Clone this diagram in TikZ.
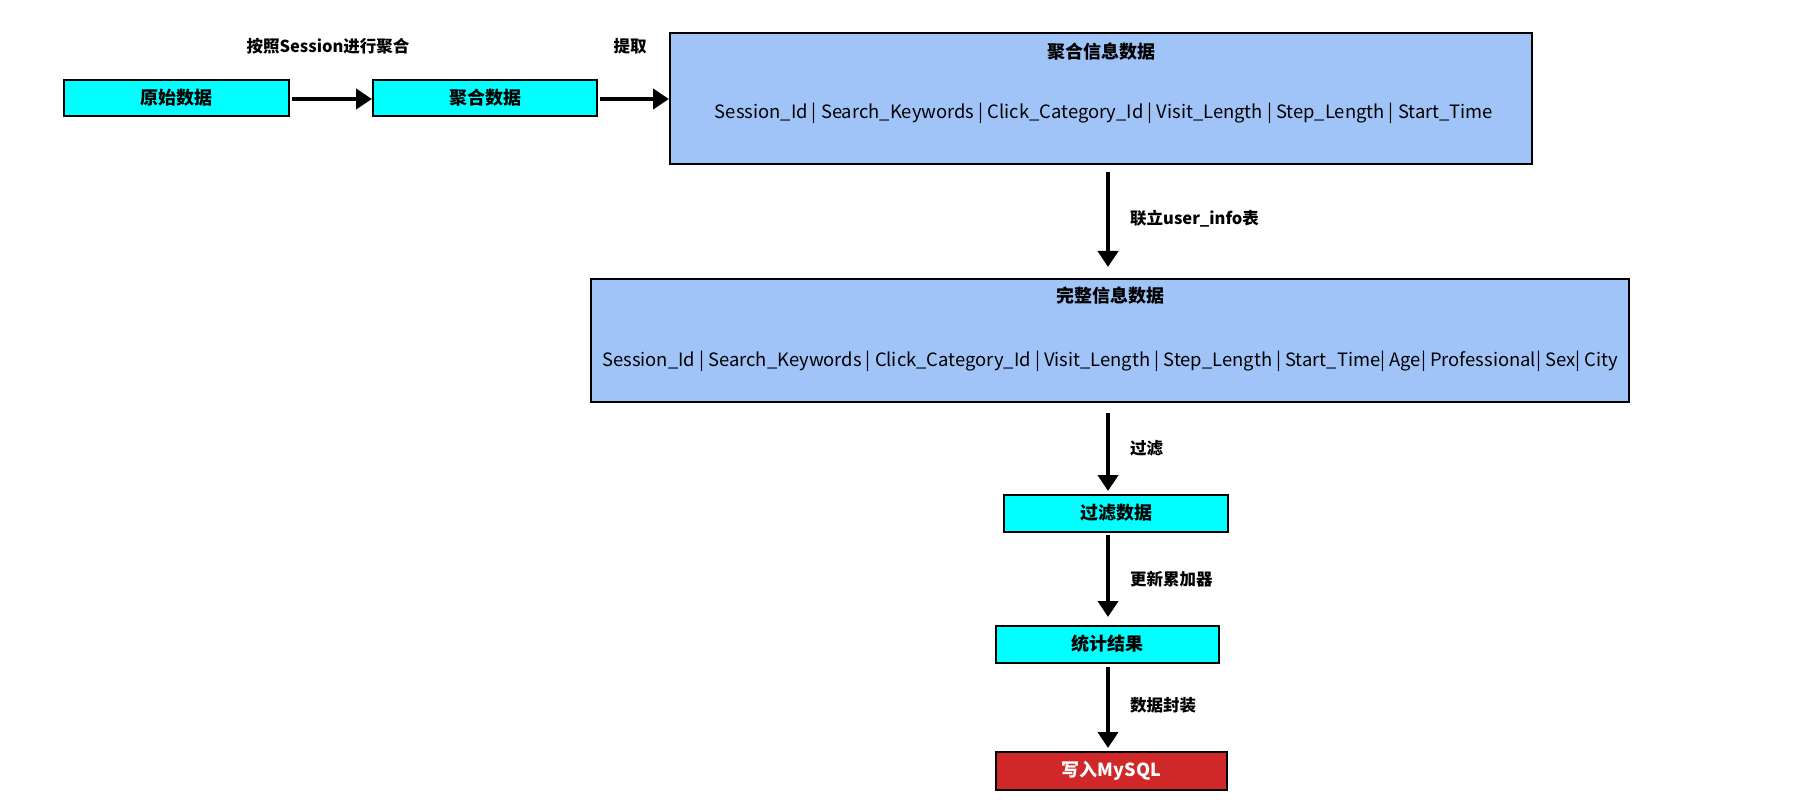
\documentclass[tikz,border=0pt]{standalone}
\usepackage{fontspec}
\setmainfont{Noto Sans CJK SC}
\usetikzlibrary{arrows.meta}
\definecolor{cyanbox}{RGB}{0,255,255}
\definecolor{bluebox}{RGB}{160,196,248}
\definecolor{redbox}{RGB}{208,40,40}
\tikzset{
  box/.style={draw=black, line width=2.5pt, inner sep=0pt},
  smallbox/.style={box, fill=cyanbox},
  bigbox/.style={box, fill=bluebox},
  flow/.style={line width=4pt, -{Triangle[length=16pt,width=20pt]}},
  lbl/.style={font=\fontsize{16.5}{19}\selectfont\bfseries, inner sep=0pt},
  boxtext/.style={font=\fontsize{18}{21}\selectfont\bfseries, inner sep=0pt},
  fieldtext/.style={font=\fontsize{18.4}{22}\selectfont, inner sep=0pt}
}
\begin{document}
\begin{tikzpicture}[x=1pt,y=-1pt]
\useasboundingbox (0,0) rectangle (1798,810);
% boxes
\draw[smallbox] (64,80) rectangle (289,116);
\node[boxtext] (a) at (176.5,98) {原始数据};
\coordinate (aR) at (289,99);
\draw[smallbox] (373,80) rectangle (597,116);
\node[boxtext] (b) at (485,98) {聚合数据};
\coordinate (bL) at (373,99);
\coordinate (bR) at (597,99);
\draw[bigbox] (670,33) rectangle (1532,164);
\node[boxtext] (c) at (1101,52) {聚合信息数据};
\node[fieldtext] (cf) at (1104,113) {Session\_Id | Search\_Keywords | Click\_Category\_Id | Visit\_Length | Step\_Length | Start\_Time};
\coordinate (cL) at (670,99);
\coordinate (cB) at (1108,164);
\draw[bigbox] (591,279) rectangle (1629,402);
\node[boxtext] (d) at (1110,296) {完整信息数据};
\node[fieldtext] (df) at (1110,361) {Session\_Id | Search\_Keywords | Click\_Category\_Id | Visit\_Length | Step\_Length | Start\_Time| Age| Professional| Sex| City};
\coordinate (dT) at (1108,279);
\coordinate (dB) at (1108,402);
\draw[smallbox] (1004,495) rectangle (1228,532);
\node[boxtext] (e) at (1116,513) {过滤数据};
\coordinate (eT) at (1108,495);
\coordinate (eB) at (1108,532);
\draw[smallbox] (996,626) rectangle (1219,663);
\node[boxtext] (f) at (1107.5,644) {统计结果};
\coordinate (fT) at (1108,626);
\coordinate (fB) at (1108,663);
\draw[box, fill=redbox] (996,752) rectangle (1227,790);
\node[boxtext, text=white] (g) at (1111.5,771) {写入MySQL};
\coordinate (gT) at (1108,752);
% arrows
\draw[flow, shorten <=3pt, shorten >=1pt] (aR) -- (bL);
\draw[flow, shorten <=3pt, shorten >=1pt] (bR) -- (cL);
\draw[flow, shorten <=8pt, shorten >=12pt] (cB) -- (dT);
\draw[flow, shorten <=11pt, shorten >=4pt] (dB) -- (eT);
\draw[flow, shorten <=3pt, shorten >=9pt] (eB) -- (fT);
\draw[flow, shorten <=4pt, shorten >=4pt] (fB) -- (gT);
% labels
\node[lbl] (l1) at (328,46) {按照Session进行聚合};
\node[lbl] (l2) at (630,46) {提取};
\node[lbl, anchor=west] (l3) at (1130,219) {联立user\_info表};
\node[lbl, anchor=west] (l4) at (1130,448) {过滤};
\node[lbl, anchor=west] (l5) at (1130,579) {更新累加器};
\node[lbl, anchor=west] (l6) at (1130,705) {数据封装};
\end{tikzpicture}
\end{document}
